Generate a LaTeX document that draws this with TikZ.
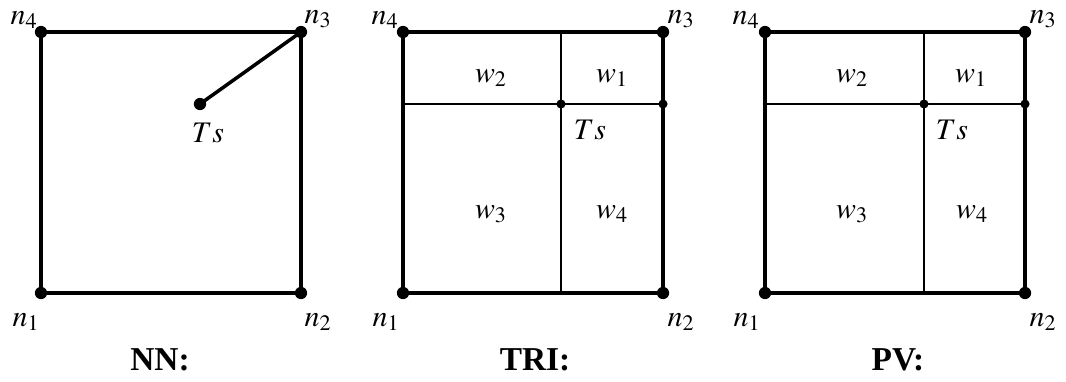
\documentclass[tikz,border=0pt]{standalone}
\usepackage{mathptmx}
\usepackage{fontspec}
\setmainfont{Liberation Serif}
\usepackage{tikz}

\begin{document}
\begin{tikzpicture}[
    x=0.02cm,
    y=-0.02cm,
    dot/.style={circle,fill,inner sep=0pt,minimum size=7pt},
    sdot/.style={circle,fill,inner sep=0pt,minimum size=5.2pt},
    frame/.style={line width=2pt},
    grid/.style={line width=0.7pt},
    lbl/.style={font=\fontsize{17}{20}\selectfont, inner sep=1pt},
    ttl/.style={font=\fontsize{19}{22}\selectfont\bfseries}
]
\useasboundingbox (0,0) rectangle (1066,382);

% NN
\node[dot] (a1) at (41,293) {};
\node[dot] (a2) at (301,293) {};
\node[dot] (a3) at (301,32) {};
\node[dot] (a4) at (41,32) {};
\node[dot] (ats) at (200,104) {};
\draw[frame] (a1.center) -- (a2.center) -- (a3.center) -- (a4.center) -- cycle;
\draw[frame] (ats.center) -- (a3.center);
\node[lbl] (an4) at (24,20) {$n_4$};
\node[lbl] (an3) at (318,19) {$n_3$};
\node[lbl] (an1) at (26,322) {$n_1$};
\node[lbl] (an2) at (318,322) {$n_2$};
\node[lbl] (ats-l) at (208,133) {$Ts$};
\node[ttl] (nn) at (160,360) {NN:};

% TRI
\node[dot] (b1) at (403,293) {};
\node[dot] (b2) at (663,293) {};
\node[dot] (b3) at (663,32) {};
\node[dot] (b4) at (403,32) {};
\node[sdot] (bts) at (561,104) {};
\node[sdot] (br) at (663,104) {};
\coordinate (bt) at (561,32);
\coordinate (bb) at (561,293);
\coordinate (bl) at (403,104);
\draw[grid] (bt) -- (bb);
\draw[grid] (bl) -- (br.center);
\draw[frame] (b1.center) -- (b2.center) -- (b3.center) -- (b4.center) -- cycle;
\node[lbl] (bn4) at (385,20) {$n_4$};
\node[lbl] (bn3) at (681,19) {$n_3$};
\node[lbl] (bn1) at (386,322) {$n_1$};
\node[lbl] (bn2) at (681,322) {$n_2$};
\node[lbl] (bts-l) at (590,130) {$Ts$};
\node[lbl] (bw2) at (491,78) {$w_2$};
\node[lbl] (bw1) at (612,78) {$w_1$};
\node[lbl] (bw3) at (491,214) {$w_3$};
\node[lbl] (bw4) at (612,214) {$w_4$};
\node[ttl] (tri) at (535,360) {TRI:};

% PV
\node[dot] (c1) at (765,293) {};
\node[dot] (c2) at (1025,293) {};
\node[dot] (c3) at (1025,32) {};
\node[dot] (c4) at (765,32) {};
\node[sdot] (cts) at (924,104) {};
\node[sdot] (cr) at (1025,104) {};
\coordinate (ct) at (924,32);
\coordinate (cb) at (924,293);
\coordinate (cl) at (765,104);
\draw[grid] (ct) -- (cb);
\draw[grid] (cl) -- (cr.center);
\draw[frame] (c1.center) -- (c2.center) -- (c3.center) -- (c4.center) -- cycle;
\node[lbl] (cn4) at (746,20) {$n_4$};
\node[lbl] (cn3) at (1043,19) {$n_3$};
\node[lbl] (cn1) at (747,322) {$n_1$};
\node[lbl] (cn2) at (1043,322) {$n_2$};
\node[lbl] (cts-l) at (952,130) {$Ts$};
\node[lbl] (cw2) at (852,78) {$w_2$};
\node[lbl] (cw1) at (971,78) {$w_1$};
\node[lbl] (cw3) at (852,214) {$w_3$};
\node[lbl] (cw4) at (972,214) {$w_4$};
\node[ttl] (pv) at (898,360) {PV:};
\end{tikzpicture}
\end{document}
